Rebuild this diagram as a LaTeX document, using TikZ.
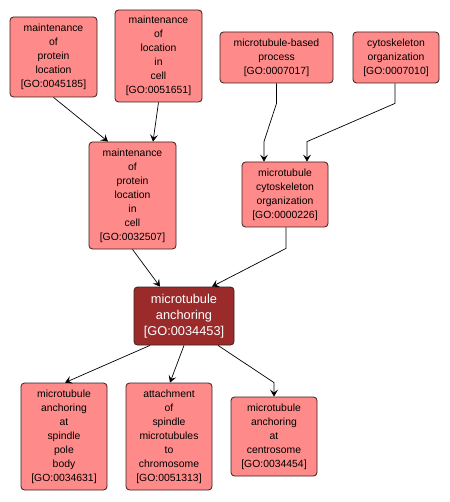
\documentclass[tikz,border=0pt]{standalone}
\usepackage{fontspec}
\setmainfont{Liberation Sans}
\usetikzlibrary{arrows.meta, calc}

\definecolor{goterm}{RGB}{255,138,138}
\definecolor{gofocus}{RGB}{155,43,43}
\definecolor{goline}{RGB}{60,30,30}

\tikzset{
  goterm/.style={draw=goline, fill=goterm, rounded corners=3.5pt, line width=0.8pt,
    inner sep=0pt, align=center, font=\fontsize{10.4}{14}\selectfont},
  gofocus/.style={goterm, fill=gofocus, text=white, font=\fontsize{12.8}{16}\selectfont},
  isa/.style={-{Stealth[length=7pt, width=8pt, inset=3pt]}, line width=0.7pt, black}
}

\begin{document}
\begin{tikzpicture}[x=1pt, y=-1pt]
  \useasboundingbox (0,0) rectangle (449,502);

  % ancestors
  \node[goterm, minimum width=87pt, minimum height=80pt] (n45185) at (53.5,57)
    {maintenance\\of\\protein\\location\\{[GO:0045185]}};
  \node[goterm, minimum width=87pt, minimum height=92pt] (n51651) at (158.5,56)
    {maintenance\\of\\location\\in\\cell\\{[GO:0051651]}};
  \node[goterm, minimum width=113pt, minimum height=51pt] (n7017) at (276.5,57.5)
    {microtubule-based\\process\\{[GO:0007017]}};
  \node[goterm, minimum width=86pt, minimum height=51pt] (n7010) at (396,57.5)
    {cytoskeleton\\organization\\{[GO:0007010]}};
  \node[goterm, minimum width=87pt, minimum height=107pt] (n32507) at (132.5,195.5)
    {maintenance\\of\\protein\\location\\in\\cell\\{[GO:0032507]}};
  \node[goterm, minimum width=86pt, minimum height=65pt] (n226) at (285,194.5)
    {microtubule\\cytoskeleton\\organization\\{[GO:0000226]}};

  % focus term
  \node[gofocus, minimum width=100pt, minimum height=58pt] (n34453) at (184,316)
    {microtubule\\anchoring\\{[GO:0034453]}};

  % children
  \node[goterm, minimum width=86pt, minimum height=107pt] (n34631) at (64,436.5)
    {microtubule\\anchoring\\at\\spindle\\pole\\body\\{[GO:0034631]}};
  \node[goterm, minimum width=86pt, minimum height=107pt] (n51313) at (169,436.5)
    {attachment\\of\\spindle\\microtubules\\to\\chromosome\\{[GO:0051313]}};
  \node[goterm, minimum width=86pt, minimum height=79pt] (n34454) at (274,436.5)
    {microtubule\\anchoring\\at\\centrosome\\{[GO:0034454]}};

  % is_a links
  \draw[isa] (n45185.south) -- ([xshift=-24.5pt]n32507.north);
  \draw[isa] (n51651.south) -- ([xshift=20.5pt]n32507.north);
  \draw[isa] (n7017.south) -- ++(0,20) -- ([xshift=-21pt, yshift=20pt]n226.north)
    -- ([xshift=-21pt]n226.north);
  \draw[isa] ([xshift=-1pt]n7010.south) -- ++(0,20) -- ([xshift=22pt, yshift=20pt]n226.north)
    -- ([xshift=22pt]n226.north);
  \draw[isa] (n32507.south) -- ([xshift=-24pt]n34453.north);
  \draw[isa] ([xshift=1pt]n226.south) -- ++(0,21) -- ([xshift=28pt]n34453.north);
  \draw[isa] ([xshift=-34pt]n34453.south) -- ([xshift=1pt]n34631.north);
  \draw[isa] (n34453.south) -- ([xshift=1pt]n51313.north);
  \draw[isa] ([xshift=34pt]n34453.south) -- ([yshift=14pt]n34454.north) -- (n34454.north);
\end{tikzpicture}
\end{document}
